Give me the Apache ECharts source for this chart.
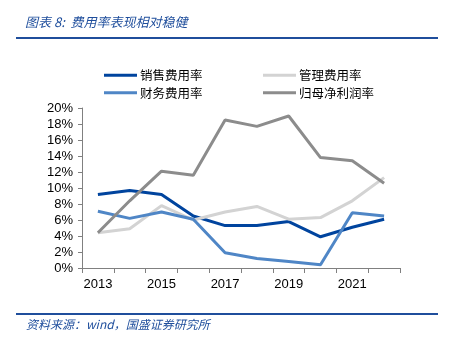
<!DOCTYPE html>
<html>
<head>
<meta charset="utf-8">
<script src="https://cdn.jsdelivr.net/npm/echarts@6/dist/echarts.min.js"></script>
<style>
  html, body { margin: 0; padding: 0; background: #fff; }
  #chart { width: 453px; height: 344px; }
</style>
</head>
<body>
<div id="chart"></div>
<script>
// Years on the category axis
const years = ['2013', '2014', '2015', '2016', '2017', '2018', '2019', '2020', '2021', '2022'];

// Ratios in percent
const sellingExpenseRate = [9.2, 9.7, 9.2, 6.5, 5.3, 5.3, 5.8, 3.9, 5.1, 6.1];
const adminExpenseRate   = [4.4, 4.9, 7.8, 6.0, 7.0, 7.7, 6.1, 6.3, 8.4, 11.3];
const financeExpenseRate = [7.1, 6.2, 7.0, 6.1, 1.9, 1.2, 0.8, 0.4, 6.9, 6.5];
const netProfitMargin    = [4.4, 8.4, 12.1, 11.6, 18.5, 17.7, 19.0, 13.8, 13.4, 10.6];

const seriesNames = ['销售费用率', '管理费用率', '财务费用率', '归母净利润率'];
const seriesColors = ['#00449e', '#d3d3d3', '#4f86c6', '#8c8c8c'];

const titleText = '图表 8:  费用率表现相对稳健';
const sourceText = '资料来源：wind，国盛证券研究所';

const cjkFont = '"Noto Sans CJK SC", sans-serif';
const numFont = '"Liberation Sans", Arial, sans-serif';

const chart = echarts.init(document.getElementById('chart'), null, { renderer: 'canvas' });

function lineSeries(name, data, color) {
  return {
    name: name,
    type: 'line',
    data: data,
    symbol: 'none',
    smooth: false,
    lineStyle: { width: 3, color: color },
    itemStyle: { color: color },
    z: 3
  };
}

const legendCommon = {
  orient: 'vertical',
  icon: 'rect',
  itemWidth: 33,
  itemHeight: 3,
  itemGap: 5,
  textStyle: { fontFamily: cjkFont, fontSize: 12.5, color: '#000', padding: [0, 0, 0, -2] }
};

chart.setOption({
  animation: false,
  backgroundColor: '#fff',
  graphic: [
    {
      type: 'text', left: 25, top: 16,
      style: { text: titleText, font: 'italic 13px ' + cjkFont, fill: '#1f4e9c' }
    },
    {
      type: 'rect', shape: { x: 16, y: 37, width: 422, height: 2 },
      style: { fill: '#1f4e9c' }
    },
    {
      type: 'rect', shape: { x: 16, y: 313, width: 422, height: 2 },
      style: { fill: '#1f4e9c' }
    },
    {
      type: 'text', left: 26, top: 318,
      style: { text: sourceText, font: 'italic 12px ' + cjkFont, fill: '#1f4e9c' }
    }
  ],
  legend: [
    Object.assign({}, legendCommon, {
      left: 99, top: 64,
      data: [seriesNames[0], seriesNames[2]]
    }),
    Object.assign({}, legendCommon, {
      left: 258, top: 64,
      data: [seriesNames[1], seriesNames[3]]
    })
  ],
  grid: { left: 82, top: 108, width: 318, height: 160, containLabel: false },
  xAxis: {
    type: 'category',
    data: years,
    boundaryGap: true,
    axisLine: { lineStyle: { color: '#808080', width: 1 } },
    axisTick: { show: true, interval: 0, length: 5, lineStyle: { color: '#808080' } },
    axisLabel: { interval: 1, fontFamily: numFont, fontSize: 13, color: '#000', margin: 10 }
  },
  yAxis: {
    type: 'value',
    min: 0, max: 20, interval: 2,
    axisLine: { show: true, lineStyle: { color: '#808080', width: 1 } },
    axisTick: { show: true, length: 4, lineStyle: { color: '#808080' } },
    splitLine: { show: false },
    axisLabel: { formatter: '{value}%', fontFamily: numFont, fontSize: 13, color: '#000', margin: 9 }
  },
  series: [
    lineSeries(seriesNames[0], sellingExpenseRate, seriesColors[0]),
    lineSeries(seriesNames[1], adminExpenseRate, seriesColors[1]),
    lineSeries(seriesNames[2], financeExpenseRate, seriesColors[2]),
    lineSeries(seriesNames[3], netProfitMargin, seriesColors[3])
  ]
});
</script>
</body>
</html>
